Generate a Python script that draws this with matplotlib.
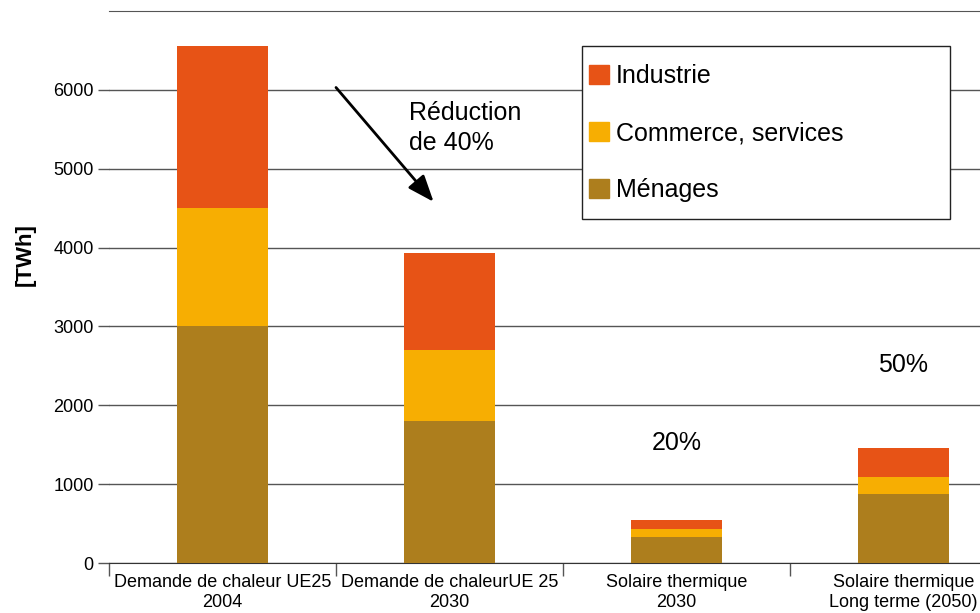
import matplotlib
matplotlib.use("Agg")
import matplotlib.pyplot as plt
from matplotlib.patches import Patch, Rectangle
import numpy as np

plt.rcParams["font.family"] = ["Liberation Sans", "DejaVu Sans"]

categories = ["Demande de chaleur UE25\n2004", "Demande de chaleurUE 25\n2030",
              "Solaire thermique\n2030", "Solaire thermique\nLong terme (2050)"]
menages = [3000, 1800, 335, 875]
commerce = [1500, 900, 95, 215]
industrie = [2050, 1230, 115, 370]
series_names = ["Industrie", "Commerce, services", "Ménages"]
colors = {"Industrie": "#E75316", "Commerce, services": "#F7AE02", "Ménages": "#AD7E1D"}
yticks = [0, 1000, 2000, 3000, 4000, 5000, 6000]

W, H = 980, 613
fig = plt.figure(figsize=(W / 100, H / 100), dpi=100)
# plot area runs past the right edge of the image, as in the reference
ax = fig.add_axes([109 / W, (H - 563) / H, 908 / W, (563 - 11) / H])

x = np.arange(len(categories))
bw = 0.4
ax.bar(x, menages, bw, color=colors["Ménages"], zorder=3)
ax.bar(x, commerce, bw, bottom=menages, color=colors["Commerce, services"], zorder=3)
ax.bar(x, industrie, bw, bottom=np.add(menages, commerce), color=colors["Industrie"], zorder=3)

ax.set_xlim(-0.5, len(categories) - 0.5)
ax.set_ylim(0, 7000)
ax.set_yticks(yticks)
ax.set_yticklabels([str(v) for v in yticks], fontsize=13)
ax.yaxis.grid(True, color="#555555", lw=1)
ax.tick_params(axis="y", length=8, width=1, color="#555555", pad=3)

ax.set_xticks(x)
ax.set_xticklabels(categories, fontsize=13, linespacing=1.25)
ax.set_xticks(np.arange(-0.5, len(categories), 1), minor=True)
ax.tick_params(axis="x", which="major", length=0, pad=8)
ax.tick_params(axis="x", which="minor", length=9, width=1, color="#555555")

for s in ["left", "right"]:
    ax.spines[s].set_visible(False)
ax.spines["top"].set_color("#555555")
ax.spines["bottom"].set_color("#333333")
ax.set_axisbelow(True)

fig.text(25 / W, (H - 255) / H, "[TWh]", rotation=90, fontsize=16,
         fontweight="bold", ha="center", va="center")

ax.annotate("", xy=(0.93, 4580), xytext=(0.5, 6030),
            arrowprops=dict(arrowstyle="-|>,head_length=0.9,head_width=0.35",
                            color="black", lw=2, mutation_scale=18,
                            shrinkA=0, shrinkB=0))
ax.text(0.82, 5520, "Réduction\nde 40%", fontsize=18, ha="left", va="center", linespacing=1.3)
ax.text(2.0, 1520, "20%", fontsize=18, ha="center", va="center")
ax.text(3.0, 2510, "50%", fontsize=18, ha="center", va="center")

# legend box drawn separately so its size matches the reference
fig.patches.append(Rectangle((582 / W, (H - 219) / H), 368 / W, 173 / H,
                             transform=fig.transFigure, facecolor="white",
                             edgecolor="#222222", lw=1, zorder=4))
handles = [Patch(color=colors[n]) for n in series_names]
leg = fig.legend(handles, series_names, loc="upper left",
                 bbox_to_anchor=(589 / W, (H - 64) / H), frameon=False,
                 fontsize=18, borderpad=0, labelspacing=1.32, handlelength=0.78,
                 handleheight=0.78, handletextpad=0.3, borderaxespad=0)
leg.set_zorder(5)

fig.savefig("out.png", dpi=100)
